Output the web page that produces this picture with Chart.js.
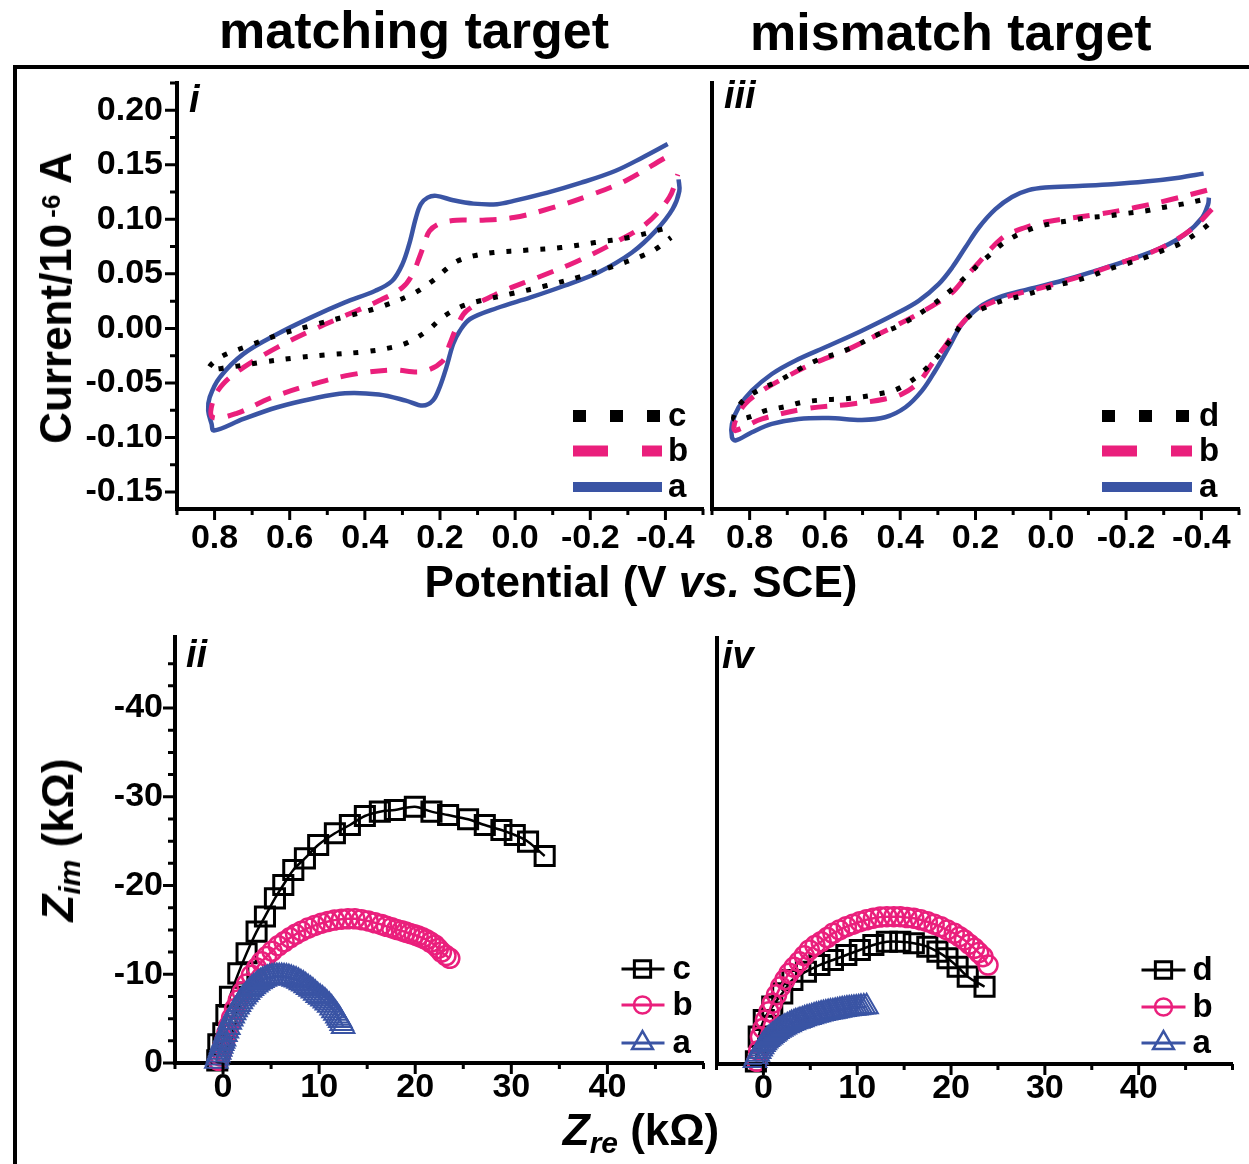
<!DOCTYPE html>
<html><head><meta charset="utf-8">
<script src="https://cdn.jsdelivr.net/npm/chart.js@4.4.1/dist/chart.umd.min.js"></script>
<style>
html,body{margin:0;padding:0;background:#fff;}
body{width:1249px;height:1164px;position:relative;overflow:hidden;font-family:"Liberation Sans",Arial,Helvetica,sans-serif;color:#000;}
canvas{position:absolute;}
.t{position:absolute;white-space:nowrap;font-weight:bold;line-height:1;}
.bar{position:absolute;background:#000;}
</style></head><body>
<div class="bar" style="left:13px;top:65px;width:1236px;height:4px;"></div>
<div class="bar" style="left:13px;top:65px;width:4px;height:1099px;"></div>

<canvas id="cI" width="720" height="530" style="left:0px;top:60px;"></canvas>
<canvas id="cIII" width="549" height="530" style="left:700px;top:60px;"></canvas>
<canvas id="cII" width="720" height="520" style="left:0px;top:610px;"></canvas>
<canvas id="cIV" width="549" height="520" style="left:700px;top:610px;"></canvas>

<div class="t" style="left:214px;width:400px;text-align:center;top:4px;font-size:52px;">matching target</div>
<div class="t" style="left:750px;width:400px;text-align:center;top:6px;font-size:52px;">mismatch target</div>
<div class="t" style="left:391px;width:500px;text-align:center;top:560px;font-size:44px;">Potential (V <i>vs.</i> SCE)</div>
<div class="t" style="left:391px;width:500px;text-align:center;top:1108px;font-size:44px;"><i>Z</i><sub style="font-size:30px;font-style:italic;vertical-align:0;position:relative;top:8px;">re</sub> (kΩ)</div>
<div class="t" style="left:56px;top:298px;font-size:44px;transform:translate(-50%,-50%) rotate(-90deg);">Current/10<sup style="font-size:26px;vertical-align:0;position:relative;top:-11px;margin-left:6px;">-6</sup> A</div>
<div class="t" style="left:58px;top:840px;font-size:44px;transform:translate(-50%,-50%) rotate(-90deg);"><i>Z</i><sub style="font-size:30px;font-style:italic;vertical-align:0;position:relative;top:7px;">im</sub> (kΩ)</div>

<div class="t" style="left:189px;top:80px;font-size:38px;font-style:italic;">i</div>
<div class="t" style="left:724px;top:76px;font-size:38px;font-style:italic;">iii</div>
<div class="t" style="left:186px;top:635px;font-size:38px;font-style:italic;">ii</div>
<div class="t" style="left:722px;top:636px;font-size:38px;font-style:italic;">iv</div>

<script>
// ---------- tick values ----------
const cvTicksX = [0.8, 0.6, 0.4, 0.2, 0.0, -0.2, -0.4];
const cvMinorX = [0.9, 0.7, 0.5, 0.3, 0.1, -0.1, -0.3, -0.5];
const cvTicksY = [-0.15, -0.10, -0.05, 0.00, 0.05, 0.10, 0.15, 0.20];
const cvMinorY = [-0.125, -0.075, -0.025, 0.025, 0.075, 0.125, 0.175, 0.225];
const eisTicksX = [0, 10, 20, 30, 40];
const eisMinorX = [-5, 5, 15, 25, 35, 45, 50];
const eisTicksY = [0, -10, -20, -30, -40];
const eisMinorY = [-2.5, -5, -7.5, -12.5, -15, -17.5, -22.5, -25, -27.5, -32.5, -35, -37.5, -42.5, -45];

// ---------- Panel i (CV, matching target) ----------
const iC_V = [-0.392,-0.302,-0.212,-0.122,-0.033,0.057,0.111,0.152,0.183,0.219,0.273,0.363,0.449,0.534,0.624,0.709,0.786,0.815,0.763,0.678,0.588,0.507,0.399,0.327,0.291,0.260,0.228,0.197,0.170,0.138,0.093,0.008,-0.082,-0.172,-0.257,-0.338,-0.374,-0.415];
const iC_I = [0.0910,0.0833,0.0787,0.0741,0.0718,0.0696,0.0665,0.0620,0.0544,0.0437,0.0315,0.0192,0.0110,0.0034,-0.0052,-0.0159,-0.0266,-0.0370,-0.0357,-0.0312,-0.0272,-0.0244,-0.0214,-0.0174,-0.0137,-0.0082,-0.0006,0.0091,0.0153,0.0208,0.0253,0.0320,0.0391,0.0473,0.0565,0.0665,0.0727,0.0833];
const iB_V = [-0.397,-0.293,-0.194,-0.095,0.004,0.093,0.156,0.201,0.228,0.242,0.255,0.273,0.300,0.363,0.453,0.543,0.633,0.723,0.777,0.804,0.805,0.741,0.651,0.543,0.435,0.327,0.246,0.192,0.174,0.156,0.129,0.040,-0.060,-0.158,-0.257,-0.347,-0.410,-0.433];
const iB_I = [0.156,0.1352,0.1215,0.1102,0.1016,0.0992,0.0992,0.0961,0.0894,0.0772,0.0650,0.0498,0.0375,0.0253,0.0116,-0.0021,-0.0174,-0.0357,-0.0509,-0.0662,-0.0815,-0.0779,-0.0638,-0.0516,-0.0424,-0.0381,-0.0394,-0.0296,-0.0143,0.0009,0.0162,0.0330,0.0467,0.0604,0.0772,0.0955,0.1199,0.1413];
const iA_V = [-0.406,-0.338,-0.266,-0.176,-0.086,0.004,0.048,0.111,0.165,0.210,0.233,0.251,0.264,0.282,0.300,0.327,0.372,0.453,0.543,0.633,0.723,0.786,0.813,0.817,0.808,0.802,0.723,0.633,0.543,0.453,0.363,0.291,0.246,0.219,0.201,0.183,0.165,0.147,0.120,0.048,-0.041,-0.131,-0.221,-0.311,-0.374,-0.419,-0.437,-0.435];
const iA_I = [0.169,0.1565,0.1443,0.1336,0.1245,0.1169,0.1139,0.1144,0.1175,0.1215,0.1199,0.1139,0.1016,0.0772,0.0589,0.0437,0.0345,0.0238,0.0101,-0.0052,-0.0234,-0.0449,-0.0632,-0.0754,-0.0876,-0.0937,-0.0830,-0.0723,-0.0647,-0.0595,-0.0607,-0.0662,-0.0708,-0.0662,-0.0540,-0.0357,-0.0143,-0.0021,0.0086,0.0187,0.0284,0.0391,0.0513,0.0696,0.0894,0.1093,0.1260,0.1367];

// ---------- Panel iii (CV, mismatch target) ----------
const iiiD_V = [-0.397,-0.349,-0.295,-0.251,-0.198,-0.154,-0.101,-0.056,-0.003,0.041,0.085,0.130,0.165,0.191,0.218,0.262,0.324,0.404,0.457,0.537,0.634,0.714,0.794,0.825,0.842,0.803,0.758,0.705,0.661,0.608,0.555,0.510,0.457,0.413,0.377,0.342,0.307,0.271,0.236,0.209,0.174,0.130,0.076,0.032,-0.012,-0.065,-0.109,-0.154,-0.198,-0.251,-0.295,-0.340,-0.384,-0.424,-0.428];
const iiiD_I = [0.1175,0.1139,0.1108,0.1077,0.1053,0.1032,0.1016,0.0992,0.0961,0.0925,0.0864,0.0772,0.0665,0.0589,0.0498,0.0360,0.0192,0.0024,-0.0052,-0.0189,-0.0311,-0.0464,-0.0601,-0.0693,-0.0830,-0.0815,-0.0754,-0.0717,-0.0678,-0.0656,-0.0647,-0.0632,-0.0601,-0.0564,-0.0495,-0.0403,-0.0281,-0.0128,0.0040,0.0132,0.0192,0.0253,0.0299,0.0345,0.0391,0.0437,0.0482,0.0544,0.0589,0.0650,0.0711,0.0772,0.0864,0.0970,0.1016];
const iiiB_V = [-0.415,-0.322,-0.224,-0.127,-0.030,0.023,0.068,0.121,0.156,0.191,0.227,0.262,0.307,0.369,0.457,0.546,0.634,0.705,0.767,0.812,0.834,0.842,0.838,0.767,0.652,0.528,0.440,0.395,0.351,0.316,0.280,0.245,0.200,0.121,0.023,-0.083,-0.189,-0.287,-0.375,-0.428];
const iiiB_I = [0.1267,0.1184,0.1108,0.1047,0.1001,0.0970,0.0925,0.0848,0.0741,0.0604,0.0467,0.0329,0.0223,0.0101,-0.0052,-0.0204,-0.0326,-0.0449,-0.0571,-0.0693,-0.0815,-0.0907,-0.0937,-0.0830,-0.0738,-0.0693,-0.0647,-0.0601,-0.0495,-0.0326,-0.0159,0.0009,0.0162,0.0284,0.0375,0.0482,0.0604,0.0727,0.0910,0.1093];
const iiiA_V = [-0.406,-0.340,-0.251,-0.163,-0.074,0.015,0.059,0.103,0.147,0.191,0.227,0.262,0.298,0.351,0.413,0.502,0.590,0.679,0.741,0.794,0.829,0.847,0.847,0.838,0.794,0.741,0.670,0.590,0.502,0.440,0.386,0.342,0.307,0.271,0.236,0.191,0.138,0.059,-0.030,-0.118,-0.207,-0.295,-0.357,-0.402,-0.418,-0.420];
const iiiA_I = [0.1419,0.1382,0.1346,0.1322,0.1306,0.1291,0.1267,0.1205,0.1093,0.0925,0.0741,0.0558,0.0406,0.0253,0.0132,-0.0021,-0.0159,-0.0296,-0.0418,-0.0571,-0.0723,-0.0876,-0.0998,-0.1028,-0.0952,-0.0876,-0.0830,-0.0821,-0.0839,-0.0815,-0.0723,-0.0571,-0.0388,-0.0174,0.0040,0.0192,0.0284,0.0360,0.0437,0.0528,0.0626,0.0741,0.0864,0.1016,0.1139,0.1199];

// ---------- Panel ii (Nyquist, matching target) ----------
const iiC_re = [-0.6,-0.49,0.03,0.35,0.72,1.59,2.45,3.49,4.36,5.40,6.27,7.31,8.52,9.90,11.64,13.2,14.76,16.32,17.88,19.96,21.69,23.42,25.5,27.24,28.97,30.36,31.74,33.47];
const iiC_im = [-0.3,-2.1,-3.35,-5.4,-7.47,-10.1,-12.36,-14.8,-16.5,-18.55,-20.06,-21.75,-23.06,-24.56,-25.88,-26.82,-27.83,-28.32,-28.51,-28.88,-28.32,-27.94,-27.46,-26.82,-26.25,-25.69,-24.94,-23.32];
const iiB_re = [-0.5,-0.3,-0.15,0.0,0.2,0.4,0.6,0.89,1.2,1.59,2.0,2.45,2.95,3.49,4.0,4.53,5.1,5.75,6.35,6.96,7.55,8.17,8.85,9.56,10.25,10.94,11.6,12.33,13.0,13.72,14.4,15.1,15.8,16.49,17.0,17.53,18.05,18.57,19.0,19.44,19.9,20.3,20.75,21.17,21.6,22.04,22.4,22.73,23.2,23.6];
const iiB_im = [-0.3,-0.8,-1.3,-1.9,-2.6,-3.4,-4.2,-5.1,-6.1,-7.1,-8.0,-8.9,-9.9,-10.7,-11.4,-12.0,-12.6,-13.2,-13.65,-14.1,-14.5,-14.85,-15.2,-15.5,-15.75,-15.95,-16.1,-16.2,-16.25,-16.25,-16.15,-16.0,-15.8,-15.6,-15.4,-15.25,-15.05,-14.9,-14.75,-14.6,-14.45,-14.3,-14.1,-13.9,-13.6,-13.3,-12.9,-12.5,-12.1,-11.79];
const iiA_re = [-0.7,-0.6,-0.5,-0.4,-0.3,-0.2,-0.1,0.0,0.1,0.25,0.4,0.55,0.7,0.85,1.0,1.15,1.3,1.5,1.65,1.85,2.0,2.2,2.4,2.6,2.8,3.0,3.2,3.45,3.65,3.9,4.1,4.35,4.6,4.85,5.1,5.35,5.6,5.85,6.1,6.35,6.6,6.85,7.1,7.35,7.6,7.85,8.1,8.35,8.6,8.85,9.1,9.35,9.6,9.85,10.1,10.35,10.6,10.8,11.05,11.3,11.5,11.7,11.9,12.05,12.2,12.35,12.5];
const iiA_im = [-0.2,-0.55,-0.9,-1.2,-1.55,-1.9,-2.2,-2.45,-2.7,-3.2,-3.6,-4.0,-4.6,-4.95,-5.3,-5.65,-6.0,-6.3,-6.6,-6.9,-7.2,-7.45,-7.7,-7.95,-8.2,-8.4,-8.6,-8.8,-9.0,-9.15,-9.3,-9.45,-9.55,-9.65,-9.7,-9.75,-9.75,-9.75,-9.75,-9.72,-9.7,-9.62,-9.55,-9.45,-9.35,-9.2,-9.05,-8.9,-8.7,-8.5,-8.3,-8.1,-7.85,-7.6,-7.4,-7.2,-7.0,-6.75,-6.5,-6.2,-5.9,-5.6,-5.3,-5.05,-4.8,-4.45,-4.1];

// ---------- Panel iv (Nyquist, mismatch target) ----------
const ivD_re = [-0.8,-0.50,0.04,0.94,2.01,3.09,4.53,5.97,7.41,8.84,10.28,11.72,13.16,14.59,16.03,17.47,18.55,19.62,20.7,21.78,23.57];
const ivD_im = [-0.3,-3.08,-4.96,-6.46,-7.96,-9.46,-10.4,-11.15,-11.72,-12.28,-12.85,-13.41,-13.78,-13.78,-13.6,-13.22,-12.66,-11.91,-10.96,-9.84,-8.71];
const ivB_re = [-0.7,-0.5,-0.32,-0.05,0.22,0.6,0.94,1.4,1.84,2.3,2.73,3.25,3.81,4.35,4.89,5.5,6.15,6.8,7.41,8.1,8.84,9.55,10.28,11.0,11.72,12.45,13.16,13.9,14.59,15.3,16.03,16.75,17.47,18.2,18.9,19.6,20.34,20.9,21.42,21.95,22.5,22.95,23.4,23.94];
const ivB_im = [-0.3,-1.5,-3.08,-4.0,-4.96,-5.9,-6.84,-7.8,-8.71,-9.5,-10.22,-10.9,-11.53,-12.2,-12.85,-13.35,-13.78,-14.25,-14.72,-15.1,-15.47,-15.75,-16.03,-16.25,-16.42,-16.55,-16.6,-16.6,-16.6,-16.5,-16.42,-16.25,-16.03,-15.75,-15.47,-15.1,-14.72,-14.35,-13.97,-13.5,-13.03,-12.55,-12.09,-11.15];
const ivA_re = [-0.9,-0.75,-0.6,-0.45,-0.3,-0.15,0.0,0.15,0.3,0.45,0.6,0.8,0.95,1.15,1.3,1.5,1.7,1.9,2.1,2.3,2.55,2.8,3.0,3.25,3.45,3.7,3.9,4.15,4.4,4.65,4.9,5.15,5.4,5.65,5.9,6.15,6.4,6.65,6.9,7.15,7.4,7.65,7.9,8.15,8.4,8.65,8.9,9.15,9.4,9.65,9.9,10.15,10.4,10.7,11.0];
const ivA_im = [-0.4,-0.75,-1.1,-1.4,-1.7,-1.95,-2.2,-2.4,-2.6,-2.75,-2.9,-3.05,-3.2,-3.35,-3.5,-3.65,-3.8,-3.92,-4.05,-4.18,-4.3,-4.43,-4.55,-4.65,-4.75,-4.83,-4.9,-5.0,-5.1,-5.18,-5.25,-5.33,-5.4,-5.48,-5.55,-5.62,-5.7,-5.75,-5.8,-5.85,-5.9,-5.95,-6.0,-6.05,-6.1,-6.15,-6.2,-6.22,-6.25,-6.28,-6.3,-6.35,-6.4,-6.43,-6.46];

const legendLeft = ['c', 'b', 'a'];
const legendRight = ['d', 'b', 'a'];

const BLUE = '#3A54A4', PINK = '#EA1F7C', BLACK = '#000000';

Chart.defaults.font.family = '"Liberation Sans", Arial, Helvetica, sans-serif';
Chart.defaults.color = '#000';

function pts(xs, ys) { return xs.map((x, i) => ({x: x, y: ys[i]})); }

function cvSet(label, xs, ys, style) {
  const base = {label: label, data: pts(xs, ys), showLine: true, pointRadius: 0, fill: false, clip: false,
    tension: 0.35, borderCapStyle: 'butt', borderJoinStyle: 'round'};
  if (style === 'dot') return Object.assign(base, {borderColor: BLACK, borderWidth: 5, borderDash: [5, 12]});
  if (style === 'dash') return Object.assign(base, {borderColor: PINK, borderWidth: 5, borderDash: [17, 13]});
  return Object.assign(base, {borderColor: BLUE, borderWidth: 4.5});
}
function eisSet(label, xs, ys, kind) {
  const base = {label: label, data: pts(xs, ys), showLine: true, fill: false, clip: false, tension: 0.3,
    pointBackgroundColor: 'rgba(0,0,0,0)'};
  if (kind === 'rect') return Object.assign(base, {borderColor: BLACK, borderWidth: 2.5, pointStyle: 'rect', pointRadius: 13.5, pointBorderWidth: 3, pointBorderColor: BLACK});
  if (kind === 'circle') return Object.assign(base, {borderColor: PINK, borderWidth: 2.5, pointStyle: 'circle', pointRadius: 9.5, pointBorderWidth: 2.5, pointBorderColor: PINK});
  return Object.assign(base, {borderColor: BLUE, borderWidth: 2, pointStyle: 'triangle', pointRadius: 13, pointBorderWidth: 2, pointBorderColor: BLUE});
}

function drawMarker(ctx, kind, x, y, r, w, color) {
  ctx.save(); ctx.strokeStyle = color; ctx.lineWidth = w; ctx.beginPath();
  if (kind === 'rect') { const s = r * Math.SQRT2; ctx.rect(x - s / 2, y - s / 2, s, s); }
  else if (kind === 'circle') { ctx.arc(x, y, r, 0, Math.PI * 2); }
  else {
    ctx.moveTo(x, y - r);
    ctx.lineTo(x + r * Math.sin(2 * Math.PI / 3), y - r * Math.cos(2 * Math.PI / 3));
    ctx.lineTo(x + r * Math.sin(4 * Math.PI / 3), y - r * Math.cos(4 * Math.PI / 3));
    ctx.closePath();
  }
  ctx.stroke(); ctx.restore();
}

function tickPlugin(o) {
  return {id: 'axisTicks', afterDraw(chart) {
    const ctx = chart.ctx, ca = chart.chartArea, sx = chart.scales.x, sy = chart.scales.y;
    ctx.save(); ctx.strokeStyle = '#000'; ctx.lineWidth = 3; ctx.beginPath();
    const dx = (vals, len) => vals.forEach(v => { const p = sx.getPixelForValue(v); ctx.moveTo(p, ca.bottom); ctx.lineTo(p, ca.bottom + len); });
    const dy = (vals, len) => vals.forEach(v => { const p = sy.getPixelForValue(v); ctx.moveTo(ca.left, p); ctx.lineTo(ca.left - len, p); });
    dx(o.xTicks, 11); dx(o.xMinor, 6);
    if (o.yLabels) { dy(o.yTicks, 12); dy(o.yMinor, 7); }
    ctx.stroke(); ctx.restore();
  }};
}

function legendPlugin(L) {
  return {id: 'customLegend', afterDraw(chart) {
    const ctx = chart.ctx, ca = chart.chartArea;
    L.items.forEach((it, i) => {
      const y = ca.bottom + L.rows[i];
      ctx.save();
      ctx.strokeStyle = it.color; ctx.lineWidth = it.lw; ctx.setLineDash(it.dash || []); ctx.lineCap = 'butt';
      ctx.beginPath(); ctx.moveTo(ca.right + L.x0, y); ctx.lineTo(ca.right + L.x1, y); ctx.stroke();
      ctx.setLineDash([]);
      if (it.marker) drawMarker(ctx, it.marker, ca.right + L.xm, y, it.r, it.mw, it.color);
      ctx.fillStyle = '#000'; ctx.font = 'bold 33px "Liberation Sans", Arial, sans-serif';
      ctx.textBaseline = 'alphabetic'; ctx.textAlign = 'left';
      ctx.fillText(it.label, ca.right + L.tx, y + 10);
      ctx.restore();
    });
  }};
}

function buildChart(id, o) {
  return new Chart(document.getElementById(id), {
    type: 'scatter',
    data: {datasets: o.datasets},
    options: {
      responsive: false, animation: false, devicePixelRatio: 1, events: [],
      layout: {padding: o.padding},
      plugins: {legend: {display: false}, tooltip: {enabled: false}},
      scales: {
        x: {type: 'linear', position: 'bottom', min: o.xMin, max: o.xMax, reverse: o.xRev,
          afterBuildTicks: s => { s.ticks = o.xTicks.map(v => ({value: v})); },
          afterFit: s => { s.height = o.xH; s.paddingLeft = 0; s.paddingRight = 0; s.paddingTop = 0; s.paddingBottom = 0; },
          ticks: {autoSkip: false, maxRotation: 0, minRotation: 0, padding: o.xPad, color: '#000',
            font: {size: 34, weight: 'bold'}, callback: o.xFmt},
          grid: {display: true, drawOnChartArea: false, drawTicks: false},
          border: {display: true, color: '#000', width: 4}},
        y: {type: 'linear', position: 'left', min: o.yMin, max: o.yMax, reverse: o.yRev,
          afterBuildTicks: s => { s.ticks = o.yTicks.map(v => ({value: v})); },
          afterFit: s => { s.width = o.yW; s.paddingLeft = 0; s.paddingRight = 0; s.paddingTop = 0; s.paddingBottom = 0; },
          ticks: {display: o.yLabels, autoSkip: false, padding: o.yPad, color: '#000',
            font: {size: 34, weight: 'bold'}, callback: o.yFmt},
          grid: {display: true, drawOnChartArea: false, drawTicks: false},
          border: {display: true, color: '#000', width: 4}}
      }
    },
    plugins: [tickPlugin(o), legendPlugin(o.legend)]
  });
}

const cvFmtX = v => v.toFixed(1);
const cvFmtY = v => v.toFixed(2);
const eisFmt = v => String(v);

const cvLegend = (labels, x0, x1, tx) => ({x0: x0, x1: x1, tx: tx, rows: [-93, -58, -22], items: [
  {label: labels[0], color: BLACK, lw: 12, dash: [13, 24]},
  {label: labels[1], color: PINK, lw: 11, dash: [35, 34]},
  {label: labels[2], color: BLUE, lw: 10, dash: []}]});
const eisLegend = (labels, x0, x1, xm, tx, rows) => ({x0: x0, x1: x1, xm: xm, tx: tx, rows: rows, items: [
  {label: labels[0], color: BLACK, lw: 3, marker: 'rect', r: 11.5, mw: 3},
  {label: labels[1], color: PINK, lw: 3, marker: 'circle', r: 8.5, mw: 2.5},
  {label: labels[2], color: BLUE, lw: 3, marker: 'triangle', r: 12, mw: 2.5}]});

const cvCommon = {xMin: -0.5, xMax: 0.9, xRev: true, yMin: -0.1656, yMax: 0.225, yRev: false,
  xTicks: cvTicksX, xMinor: cvMinorX, yTicks: cvTicksY, yMinor: cvMinorY,
  xFmt: cvFmtX, yFmt: cvFmtY, xH: 81, xPad: 9, yPad: 14};
const eisCommon = {xMin: -5, xMax: 50, xRev: false, yMin: -48, yMax: 0, yRev: true,
  xTicks: eisTicksX, xMinor: eisMinorX, yTicks: eisTicksY, yMinor: eisMinorY,
  xFmt: eisFmt, yFmt: eisFmt, xPad: 4, yPad: 12};

buildChart('cI', Object.assign({}, cvCommon, {
  padding: {top: 23, right: 17, left: 0, bottom: 0}, yW: 177, yLabels: true,
  datasets: [cvSet(legendLeft[0], iC_V, iC_I, 'dot'), cvSet(legendLeft[1], iB_V, iB_I, 'dash'), cvSet(legendLeft[2], iA_V, iA_I, 'solid')],
  legend: cvLegend(legendLeft, -130, -41, -35)}));

buildChart('cIII', Object.assign({}, cvCommon, {
  padding: {top: 23, right: 10, left: 0, bottom: 0}, yW: 12, yLabels: false,
  datasets: [cvSet(legendRight[0], iiiD_V, iiiD_I, 'dot'), cvSet(legendRight[1], iiiB_V, iiiB_I, 'dash'), cvSet(legendRight[2], iiiA_V, iiiA_I, 'solid')],
  legend: cvLegend(legendRight, -137, -47, -40)}));

buildChart('cII', Object.assign({}, eisCommon, {
  padding: {top: 27, right: 16, left: 0, bottom: 0}, yW: 175, xH: 67, yLabels: true,
  datasets: [eisSet(legendLeft[2], iiA_re, iiA_im, 'triangle'), eisSet(legendLeft[1], iiB_re, iiB_im, 'circle'), eisSet(legendLeft[0], iiC_re, iiC_im, 'rect')],
  legend: eisLegend(legendLeft, -82, -39, -61, -31, [-94, -58, -20])}));

buildChart('cIV', Object.assign({}, eisCommon, {
  padding: {top: 28, right: 10, left: 0, bottom: 0}, yW: 12, xH: 66, yLabels: false,
  datasets: [eisSet(legendRight[2], ivA_re, ivA_im, 'triangle'), eisSet(legendRight[1], ivB_re, ivB_im, 'circle'), eisSet(legendRight[0], ivD_re, ivD_im, 'rect')],
  legend: eisLegend(legendRight, -91, -47, -69, -40, [-94, -57, -21])}));
</script>
</body></html>
